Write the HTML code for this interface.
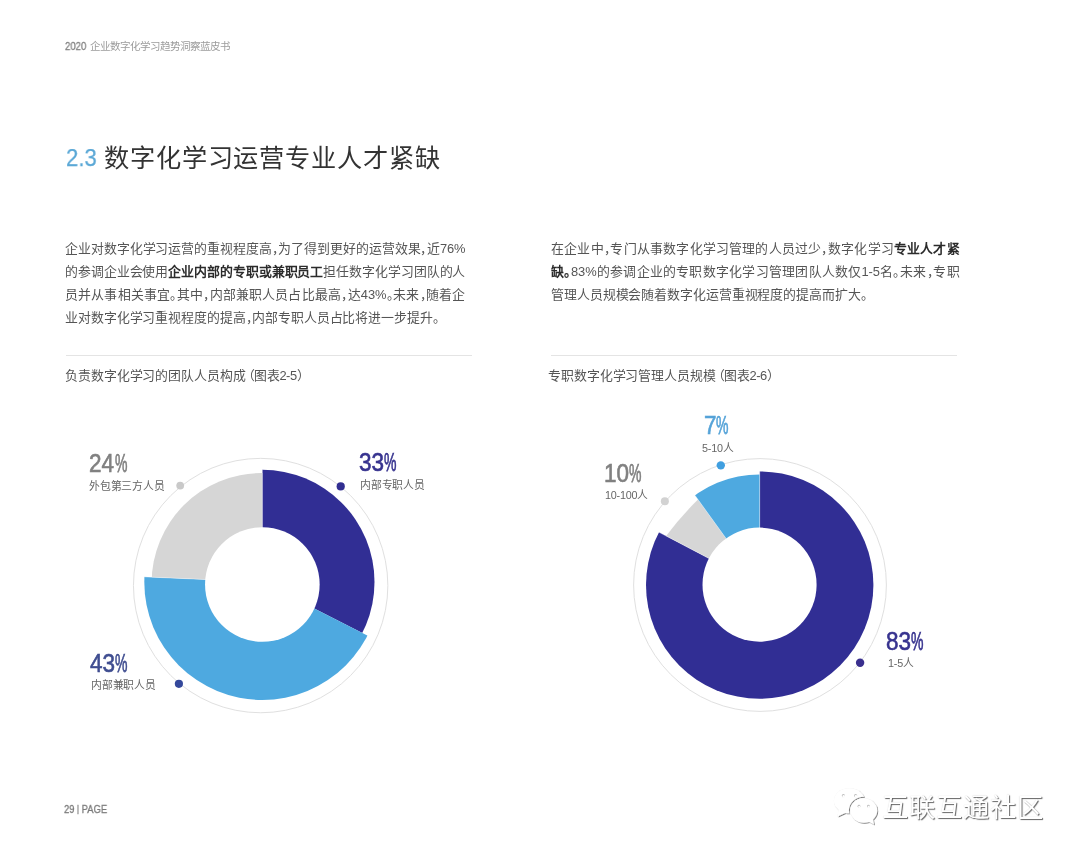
<!DOCTYPE html>
<html lang="zh-CN">
<head>
<meta charset="utf-8">
<title>2020 企业数字化学习趋势洞察蓝皮书</title>
<style>
html,body{margin:0;padding:0;background:#fff;}
body{width:1080px;height:856px;position:relative;overflow:hidden;font-family:"Liberation Sans",sans-serif;color:#555;}
.abs{position:absolute;white-space:nowrap;will-change:transform;}
.j{text-align:justify;text-align-last:justify;}
.hdr{left:90.3px;top:38px;width:140.1px;font-size:10.5px;font-weight:300;line-height:16px;color:#9c9c9c;text-align:justify;text-align-last:justify;}
.hdn{left:64.8px;top:38.2px;font-size:10.6px;line-height:16px;color:#808080;transform:scaleX(.9);transform-origin:0 50%;-webkit-text-stroke:.3px currentColor;}
.ttl{left:103.6px;top:138.5px;font-size:25.2px;font-weight:500;line-height:38px;color:#333;letter-spacing:.87px;}
.tnum{left:65.8px;top:139px;font-size:24.5px;line-height:38px;color:#5ba8d6;transform:scaleX(.9);transform-origin:0 50%;-webkit-text-stroke:.25px currentColor;}
.ln{will-change:transform;position:absolute;height:23px;line-height:23px;font-size:12.9px;letter-spacing:-.1px;color:#555;font-weight:300;white-space:nowrap;text-align:justify;text-align-last:justify;}

.ln b{font-weight:700;color:#2b2b2b;}
.L{left:65.3px;width:400.4px;}
.R{left:551.1px;width:408.6px;}
.pc{margin-right:-.5em;}
.sep{position:absolute;height:1px;background:#e4e4e4;top:355px;}
.cap{font-size:12.9px;line-height:20px;color:#555;font-weight:300;top:366px;letter-spacing:-.1px;}
.br{letter-spacing:-.45px;}
.pct{font-size:25px;line-height:26px;-webkit-text-stroke:.6px currentColor;}
.pct span{display:inline-block;transform-origin:0 50%;}
.pct .d{transform:scaleX(.9);}
.pct .d1{margin-right:-.0556em;}
.pct .d2{margin-right:-.1112em;}
.pct .q{transform:scaleX(.56);margin-left:0;-webkit-text-stroke:.75px currentColor;}
.lab{font-size:10.8px;line-height:14px;color:#666;letter-spacing:-.2px;}
.pg{left:63.6px;top:802px;font-size:11.4px;line-height:15px;color:#7a7a7a;transform:scaleX(.83);transform-origin:0 50%;-webkit-text-stroke:.3px currentColor;}
.wm{left:882.2px;top:789px;font-size:26.3px;line-height:38px;color:#fff;font-weight:300;letter-spacing:1px;text-shadow:1px 1px 1px rgba(0,0,0,.6),0 0 1px rgba(0,0,0,.2);}
svg{position:absolute;left:0;top:0;}
</style>
</head>
<body>
<svg width="1080" height="856" viewBox="0 0 1080 856">
<circle cx="260.65" cy="585.55" r="127.2" fill="none" stroke="#e0e0e0" stroke-width="1"/>
<clipPath id="w1"><path d="M262.30 582.00L262.30 282.00L412.30 322.19L522.11 432.00L562.30 582.00L529.60 718.20Z"/></clipPath><circle cx="262.3" cy="582" r="112.2" fill="#312e94" clip-path="url(#w1)"/>
<clipPath id="w2"><path d="M262.30 582.00L529.60 718.20L425.69 833.60L278.00 881.59L126.10 849.30L10.70 745.39L-37.29 597.70L-37.41 568.91Z"/></clipPath><circle cx="262.3" cy="582" r="118.0" fill="#4ea9e0" clip-path="url(#w2)"/>
<clipPath id="w3"><path d="M262.30 582.00L-37.41 568.91L9.28 420.81L123.78 315.90L262.30 282.00Z"/></clipPath><circle cx="261.4" cy="582.9" r="109.8" fill="#d6d6d6" clip-path="url(#w3)"/>
<path d="M262.3 582L262.30 469.80" stroke="#fff" stroke-opacity=".42" stroke-width=".9"/>
<path d="M262.3 582L144.41 576.85" stroke="#fff" stroke-opacity=".42" stroke-width=".9"/>
<circle cx="262.35" cy="584.5" r="57.3" fill="#fff"/>
<circle cx="180.2" cy="485.6" r="3.9" fill="#c9c9c9"/>
<circle cx="340.7" cy="486.4" r="4.1" fill="#312e91"/>
<circle cx="178.9" cy="683.8" r="4.1" fill="#34489b"/>
<circle cx="760" cy="585" r="126.4" fill="none" stroke="#e0e0e0" stroke-width="1"/>
<clipPath id="w4"><path d="M759.70 585.10L759.70 285.10L909.70 325.29L1019.51 435.10L1059.70 585.10L1019.51 735.10L909.70 844.91L759.70 885.10L609.70 844.91L499.89 735.10L459.70 585.10L494.08 445.65Z"/></clipPath><circle cx="759.7" cy="585.1" r="113.7" fill="#312e94" clip-path="url(#w4)"/>
<path d="M759.7 585.1L666.11 535.97A330 330 0 0 1 697.99 499.53Z" fill="#d6d6d6"/>
<clipPath id="w5"><path d="M759.70 585.10L584.21 341.78L729.38 286.64L759.70 285.10Z"/></clipPath><circle cx="759.7" cy="585.1" r="110.7" fill="#4ea9e0" clip-path="url(#w5)"/>
<path d="M759.7 585.1L759.70 471.40" stroke="#fff" stroke-opacity=".42" stroke-width=".9"/>
<path d="M759.7 585.1L659.03 532.25" stroke="#fff" stroke-opacity=".42" stroke-width=".9"/>
<path d="M759.7 585.1L694.95 495.32" stroke="#fff" stroke-opacity=".42" stroke-width=".9"/>
<circle cx="759.55" cy="584.65" r="57.05" fill="#fff"/>
<circle cx="720.8" cy="465.35" r="4.2" fill="#409fe0"/>
<circle cx="664.85" cy="501.2" r="4" fill="#d2d2d2"/>
<circle cx="860.1" cy="662.8" r="4.2" fill="#3a2f8e"/>

<defs>
<filter id="sh" x="-20%" y="-20%" width="140%" height="140%"><feDropShadow dx="0" dy="0" stdDeviation="0.45" flood-color="#000" flood-opacity=".3" result="a"/><feDropShadow in="SourceGraphic" dx="0.9" dy="0.9" stdDeviation="0.5" flood-color="#000" flood-opacity=".55" result="b"/><feMerge><feMergeNode in="a"/><feMergeNode in="b"/></feMerge></filter>
<mask id="wm1" maskUnits="userSpaceOnUse" x="825" y="780" width="60" height="50"><rect x="825" y="780" width="60" height="50" fill="#fff"/><ellipse cx="863.8" cy="810.5" rx="14.9" ry="13.7" fill="#000"/></mask>
</defs>
<g filter="url(#sh)">
<g mask="url(#wm1)"><ellipse cx="849.4" cy="800.8" rx="15.5" ry="12.5" fill="#fff"/><path d="M838.6 809.2L837.6 816.6L846.2 812.6Z" fill="#fff"/></g>
<ellipse cx="863.8" cy="810.5" rx="13.4" ry="12.2" fill="#fff"/><path d="M868.4 821.6L874 824.6L872.8 818.6Z" fill="#fff"/>
</g>
<g fill="#bdbdbd"><circle cx="843.4" cy="795.7" r="1.6"/><circle cx="855.6" cy="795.7" r="1.6"/><circle cx="859" cy="806.2" r="1.4"/><circle cx="868.4" cy="806.2" r="1.4"/></g>
<g fill="#fff"><circle cx="843.7" cy="796.4" r="1.3"/><circle cx="855.9" cy="796.4" r="1.3"/><circle cx="859.3" cy="806.8" r="1.15"/><circle cx="868.7" cy="806.8" r="1.15"/></g>
</svg>

<div class="abs hdn">2020</div>
<div class="abs hdr">企业数字化学习趋势洞察蓝皮书</div>
<div class="abs tnum">2.3</div>
<div class="abs ttl j" style="width:336.4px">数字化学习运营专业人才紧缺</div>

<div class="ln L" style="top:237px">企业对数字化学习运营的重视程度高<span class="pc">，</span>为了得到更好的运营效果<span class="pc">，</span>近76%</div>
<div class="ln L" style="top:260px">的参调企业会使用<b>企业内部的专职或兼职员工</b>担任数字化学习团队的人</div>
<div class="ln L" style="top:283px">员并从事相关事宜<span class="pc">。</span>其中<span class="pc">，</span>内部兼职人员占比最高<span class="pc">，</span>达43%<span class="pc">。</span>未来<span class="pc">，</span>随着企</div>
<div class="ln L" style="top:306px;width:374.2px">业对数字化学习重视程度的提高<span class="pc">，</span>内部专职人员占比将进一步提升<span class="pc">。</span></div>

<div class="ln R" style="top:237px">在企业中<span class="pc">，</span>专门从事数字化学习管理的人员过少<span class="pc">，</span>数字化学习<b>专业人才紧</b></div>
<div class="ln R" style="top:260px"><b>缺<span class="pc">。</span></b>83%的参调企业的专职数字化学习管理团队人数仅1-5名<span class="pc">。</span>未来<span class="pc">，</span>专职</div>
<div class="ln R" style="top:283px;width:316.1px">管理人员规模会随着数字化运营重视程度的提高而扩大<span class="pc">。</span></div>

<div class="sep" style="left:65.8px;width:405.9px"></div>
<div class="sep" style="left:550.8px;width:406.7px"></div>
<div class="abs cap j" style="left:65.1px;width:237.8px">负责数字化学习的团队人员构成<span class="br"><span style="margin-left:-.31em">（</span>图表2-5<span class="pc">）</span></span></div>
<div class="abs cap j" style="left:548.3px;width:224.9px">专职数字化学习管理人员规模<span class="br"><span style="margin-left:-.31em">（</span>图表2-6<span class="pc">）</span></span></div>

<div class="abs pct" style="left:88.6px;top:450px;color:#808080"><span class="d d2">24</span><span class="q" style="margin-left:.02em">%</span></div>
<div class="abs lab j" style="left:89.4px;top:478.5px;width:75.7px">外包第三方人员</div>
<div class="abs pct" style="left:359px;top:449px;color:#37338f"><span class="d d2">33</span><span class="q">%</span></div>
<div class="abs lab j" style="left:359.5px;top:478px;width:64.9px">内部专职人员</div>
<div class="abs pct" style="left:90.2px;top:650px;color:#3f4d90"><span class="d d2">43</span><span class="q">%</span></div>
<div class="abs lab j" style="left:90.7px;top:677.5px;width:64.9px">内部兼职人员</div>

<div class="abs pct" style="left:704.2px;top:412px;color:#55a3d8"><span class="d d1">7</span><span class="q" style="margin-left:-.03em">%</span></div>
<div class="abs lab" style="left:702px;top:441px">5-10人</div>
<div class="abs pct" style="left:603.6px;top:460px;color:#808080"><span class="d d2">10</span><span class="q" style="margin-left:-.02em">%</span></div>
<div class="abs lab" style="left:604.5px;top:488px">10-100人</div>
<div class="abs pct" style="left:885.5px;top:628px;color:#37338f"><span class="d d2">83</span><span class="q">%</span></div>
<div class="abs lab" style="left:888px;top:656px">1-5人</div>

<div class="abs pg">29 <span style="font-size:8.5px;position:relative;top:-1px">|</span> PAGE</div>
<div class="abs wm j" style="width:162.1px">互联互通社区</div>
</body>
</html>
